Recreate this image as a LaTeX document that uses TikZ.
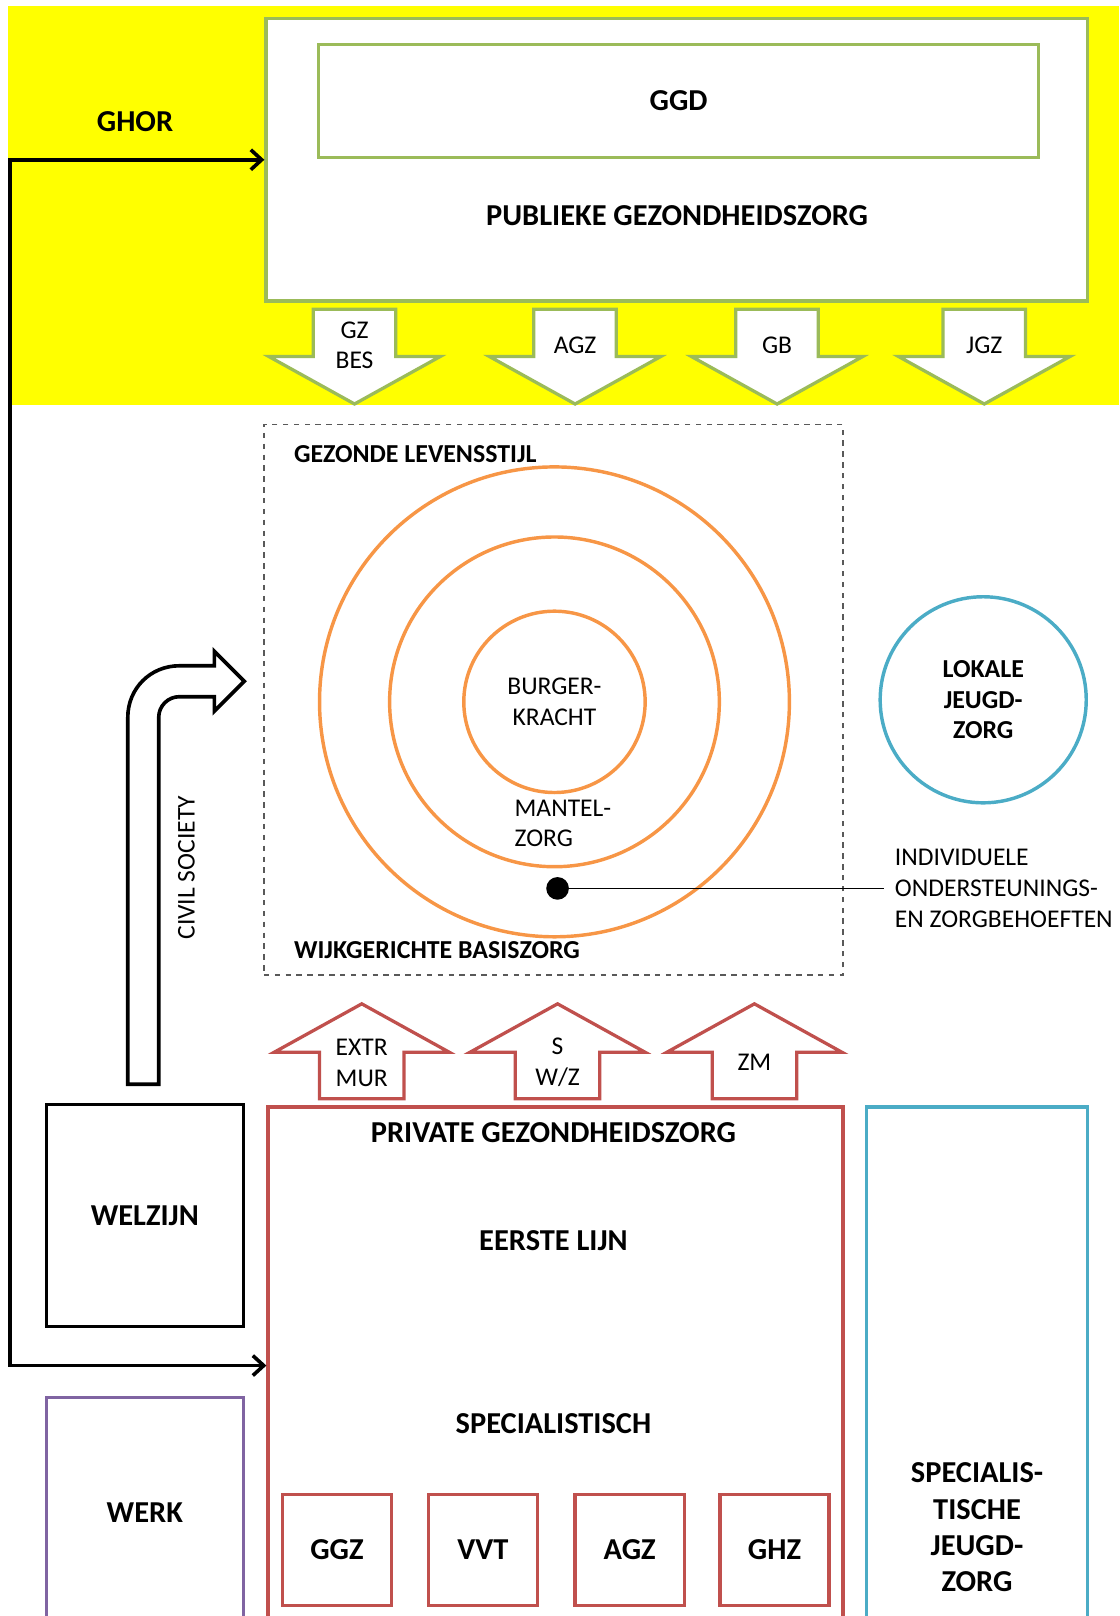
\documentclass[tikz,border=0pt]{standalone}
\usepackage{fontspec}
\setmainfont{Carlito}
\usetikzlibrary{arrows.meta}

\definecolor{bandyellow}{HTML}{FFFF00}
\definecolor{ggdgreen}{HTML}{9BBB59}
\definecolor{ringorange}{HTML}{F79646}
\definecolor{privred}{HTML}{C0504D}
\definecolor{jeugdteal}{HTML}{4BACC6}
\definecolor{werkpurple}{HTML}{8064A2}
\definecolor{dashgray}{HTML}{595959}

\tikzset{
  bigtext/.style={font=\fontsize{16.8}{20}\selectfont\bfseries, align=center, inner sep=0pt},
  midbold/.style={font=\fontsize{14.3}{17}\selectfont\bfseries, align=center, inner sep=0pt},
  thintext/.style={font=\fontsize{14.1}{17}\selectfont, align=center, inner sep=0pt},
  box/.style={draw, line width=1.8pt, fill=white, inner sep=0pt},
  ring/.style={circle, draw=ringorange, line width=1.9pt, inner sep=0pt},
  greenarrow/.style={draw=ggdgreen, line width=1.8pt, fill=white, line join=miter},
  redarrow/.style={draw=privred, line width=1.8pt, fill=white, line join=miter},
  civilarrow/.style={draw=black, line width=2pt, fill=white},
  ghorline/.style={line width=2pt, {Straight Barb[length=6pt,width=11pt]}-{Straight Barb[length=6pt,width=11pt]}}
}

\begin{document}
\begin{tikzpicture}[x=0.02cm, y=-0.02cm]
  \useasboundingbox (0,0) rectangle (1086,1568);
  \clip (0,0) rectangle (1086,1568);

  % publieke kant
  \fill[bandyellow] (8,6) rectangle (1086,393);
  \node[box, draw=ggdgreen, minimum width=15.94cm, minimum height=5.48cm] (pub) at (656.5,155) {};
  \node[box, draw=ggdgreen, minimum width=13.98cm, minimum height=2.2cm, bigtext] (ggd) at (658.5,98) {GGD};
  \node[bigtext] (pubtxt) at (657,209) {PUBLIEKE GEZONDHEIDSZORG};
  \node[bigtext] (ghor) at (131,118) {GHOR};

  \foreach \cx/\lbl in {344/{GZ\\BES}, 558/AGZ, 754/GB, 955/JGZ} {
    \draw[greenarrow] (\cx-40,300) -- (\cx+40,300) -- (\cx+40,346) -- (\cx+83,346)
      -- (\cx,392) -- (\cx-83,346) -- (\cx-40,346) -- cycle;
    \node[thintext] (dn\cx) at (\cx,335) {\lbl};
  }

  % wijk
  \node[draw=dashgray, dashed, line width=0.9pt, minimum width=11.24cm, minimum height=10.68cm] (wijk) at (537,679) {};
  \node[midbold, anchor=west] (leefstijl) at (285,441) {GEZONDE LEVENSSTIJL};
  \node[midbold, anchor=west] (basis) at (285,922) {WIJKGERICHTE BASISZORG};

  \node[ring, minimum size=9.12cm] (outer) at (538,681) {};
  \node[ring, minimum size=6.4cm] (middle) at (538,681) {};
  \node[ring, minimum size=3.52cm, thintext] (inner) at (538,681) {BURGER-\\KRACHT};
  \node[thintext, anchor=west, align=left] (mantel) at (499,799) {MANTEL-\\ZORG};

  \node[fill, circle, minimum size=0.44cm, inner sep=0pt] (need) at (541,862) {};
  \node[thintext, anchor=west, align=left] (needtxt) at (868,862) {INDIVIDUELE\\ONDERSTEUNINGS-\\EN ZORGBEHOEFTEN};
  \draw[line width=0.6pt] (need) -- ([xshift=-0.2cm]needtxt.west);

  \node[circle, draw=jeugdteal, line width=1.9pt, minimum size=4cm, midbold] (lokaal) at (954,679) {LOKALE\\JEUGD-\\ZORG};

  % civil society
  \draw[civilarrow] (124,1052) -- (124,696) .. controls (124,668) and (146,646) .. (174,646)
    -- (208,646) -- (208,632) -- (237,661) -- (208,690) -- (208,676) -- (174,676)
    .. controls (163,676) and (154,685) .. (154,696) -- (154,1052) -- cycle;
  \node[thintext, rotate=90] (civil) at (181,842) {CIVIL SOCIETY};

  \foreach \cx/\lbl in {351/{EXTR\\MUR}, 541/{S\\W/Z}, 732/ZM} {
    \draw[redarrow] (\cx-41,1066) -- (\cx+41,1066) -- (\cx+41,1021) -- (\cx+85,1021)
      -- (\cx,974) -- (\cx-85,1021) -- (\cx-41,1021) -- cycle;
    \node[thintext] (up\cx) at (\cx,1031) {\lbl};
  }

  % private kant
  \node[box, minimum width=3.82cm, minimum height=4.3cm, bigtext] (welzijn) at (140.5,1179.5) {WELZIJN};
  \node[box, draw=werkpurple, minimum width=3.82cm, minimum height=4.48cm, bigtext] (werk) at (140.5,1468) {WERK};
  \node[box, draw=privred, minimum width=11.16cm, minimum height=10.04cm] (priv) at (539,1325) {};
  \node[bigtext] (privtxt) at (537,1099) {PRIVATE GEZONDHEIDSZORG};
  \node[bigtext] (eerste) at (537,1204) {EERSTE LIJN};
  \node[bigtext] (spec) at (537,1381) {SPECIALISTISCH};
  \foreach \cx/\lbl in {327/GGZ, 468.5/VVT, 611/AGZ, 751.5/GHZ}
    \node[box, draw=privred, minimum width=2.12cm, minimum height=2.16cm, bigtext] (s\lbl) at (\cx,1504) {\lbl};

  \node[box, draw=jeugdteal, minimum width=4.28cm, minimum height=10.12cm] (specjz) at (948,1327) {};
  \node[bigtext] (specjztxt) at (948,1482) {SPECIALIS-\\TISCHE\\JEUGD-\\ZORG};

  % GHOR lijn
  \coordinate (ghortop) at (10,155);
  \coordinate (ghorbot) at (10,1325);
  \draw[ghorline] (pub.west) -- (ghortop) -- (ghorbot) -- (priv.west);
\end{tikzpicture}
\end{document}
